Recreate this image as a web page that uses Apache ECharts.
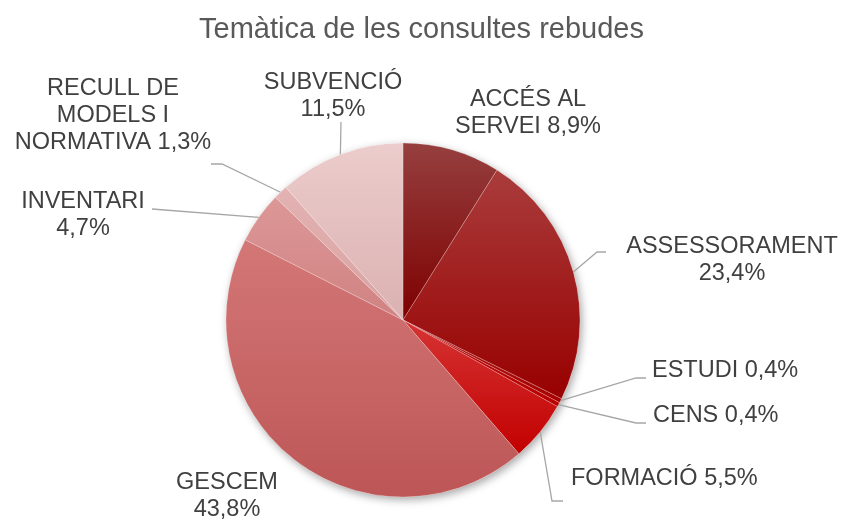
<!DOCTYPE html>
<html>
<head>
<meta charset="utf-8">
<style>
  html, body { margin: 0; padding: 0; background: #fff; }
  #chart { width: 843px; height: 520px; }
</style>
<script src="https://cdn.jsdelivr.net/npm/echarts@6/dist/echarts.min.js"></script>
</head>
<body>
<div id="chart"></div>
<script>
// data
const categories = ['ACCÉS AL SERVEI', 'ASSESSORAMENT', 'ESTUDI', 'CENS', 'FORMACIÓ',
  'GESCEM', 'INVENTARI', 'RECULL DE MODELS I NORMATIVA', 'SUBVENCIÓ'];
const shares = [8.9, 23.4, 0.4, 0.4, 5.5, 43.8, 4.7, 1.3, 11.5];
const labelTemplates = ['ACCÉS AL\nSERVEI {v}', 'ASSESSORAMENT\n{v}', 'ESTUDI {v}', 'CENS {v}',
  'FORMACIÓ {v}', 'GESCEM\n{v}', 'INVENTARI\n{v}', 'RECULL DE\nMODELS I\nNORMATIVA {v}', 'SUBVENCIÓ\n{v}'];

// colours: top / bottom of each slice's vertical gradient
const topColors = ['#963f3f', '#aa3c3c', '#b01818', '#bb1010', '#d63434', '#d47777', '#dd9797', '#e3b2b2', '#ecccCC'];
const bottomColors = ['#7e0000', '#980000', '#a80000', '#b80000', '#c20000', '#bd5656', '#d08282', '#d9a1a1', '#dbb1b1'];

// where Excel put each label and the bend points of its leader line
const labelSpots = [
  { x: 528, y: 113, align: 'center', line: null },
  { x: 732, y: 260, align: 'center', line: [[597, 252], [606, 252]] },
  { x: 652, y: 371, align: 'left', line: [[636, 378], [646, 378]] },
  { x: 653, y: 416, align: 'left', line: [[636, 423], [646, 423]] },
  { x: 571, y: 479, align: 'left', line: [[552, 501], [563, 501]] },
  { x: 227, y: 496, align: 'center', line: null },
  { x: 83, y: 215, align: 'center', line: [[152, 209]] },
  { x: 113, y: 116, align: 'center', line: [[222, 164], [211, 164]] },
  { x: 333, y: 96, align: 'center', line: [[341, 122]] }
];

const fmt = v => v.toFixed(1).replace('.', ',') + '%';

const pieData = categories.map((name, i) => ({
  name: name,
  value: shares[i],
  itemStyle: {
    color: new echarts.graphic.LinearGradient(0, 0, 0, 1, [
      { offset: 0, color: topColors[i] },
      { offset: 1, color: bottomColors[i] }
    ])
  },
  labelLine: { show: !!labelSpots[i].line }
}));

const chart = echarts.init(document.getElementById('chart'));

chart.setOption({
  animation: false,
  title: {
    text: 'Temàtica de les consultes rebudes',
    left: 'center',
    top: 10,
    textStyle: { fontFamily: 'Liberation Sans', fontSize: 29, fontWeight: 'normal', color: '#595959' }
  },
  series: [
    {
      // shadow behind the whole pie
      type: 'pie',
      silent: true,
      center: [403, 320],
      radius: 177,
      label: { show: false },
      labelLine: { show: false },
      itemStyle: {
        color: '#ffffff',
        shadowBlur: 8,
        shadowOffsetX: 2,
        shadowOffsetY: 3,
        shadowColor: 'rgba(0,0,0,0.35)'
      },
      data: [{ value: 1, name: '' }],
      z: 1
    },
    {
      type: 'pie',
      center: [403, 320],
      radius: 177,
      startAngle: 90,
      clockwise: true,
      z: 2,
      itemStyle: { borderColor: 'rgba(255,255,255,0.35)', borderWidth: 0.6 },
      label: {
        show: true,
        position: 'outside',
        fontFamily: 'Liberation Sans',
        fontSize: 23.5,
        lineHeight: 27,
        color: '#404040',
        formatter: p => labelTemplates[p.dataIndex].replace('{v}', fmt(p.value))
      },
      labelLine: {
        show: true,
        length: 10,
        length2: 10,
        lineStyle: { color: '#a6a6a6', width: 1.3 }
      },
      labelLayout: function (params) {
        const spot = labelSpots[params.dataIndex];
        const out = { x: spot.x, y: spot.y, align: spot.align, verticalAlign: 'middle' };
        if (spot.line && params.labelLinePoints) {
          out.labelLinePoints = [params.labelLinePoints[0]].concat(spot.line);
        }
        return out;
      },
      data: pieData
    }
  ]
});
</script>
</body>
</html>
